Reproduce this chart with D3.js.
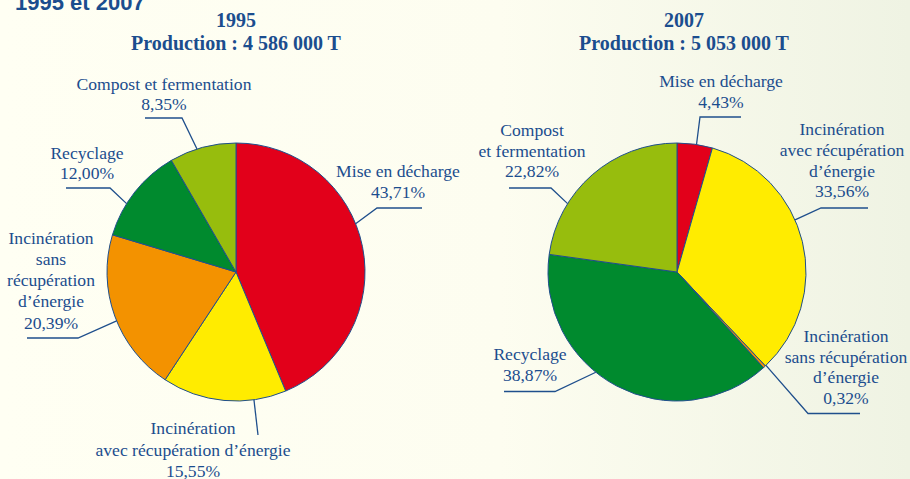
<!DOCTYPE html>
<html><head><meta charset="utf-8">
<script src="https://cdn.jsdelivr.net/npm/d3@7/dist/d3.min.js"></script>
<style>html,body{margin:0;padding:0;}svg{display:block;}</style>
</head><body>
<svg id="c" width="910" height="479"></svg>
<script>
// ---- data ----
const categories = ["Mise en décharge", "Incinération avec récupération d’énergie", "Incinération sans récupération d’énergie", "Recyclage", "Compost et fermentation"];
const colors = ["#e2001a", "#ffec00", "#f39200", "#008a2e", "#97bd0d"];
const values1995 = [43.71, 15.55, 20.39, 12.00, 8.35];
const values2007 = [4.43, 33.56, 0.32, 38.87, 22.82];
const years = ["1995", "2007"];
const productions = ["Production : 4 586 000 T", "Production : 5 053 000 T"];
const pageTitle = "1995 et 2007";

// ---- layout (label text blocks, leader angles & elbows relative to pie centre) ----
const labels1995 = [
  {lines:["Mise en décharge","43,71%"], x:162, y:[-95,-74], ang:68, elbow:[141,-64], end:[186,-64]},
  {lines:["Incinération","avec récupération d’énergie","15,55%"], x:-43, y:[162,184,205], ang:172, elbow:null, end:[22,163]},
  {lines:["Incinération","sans","récupération","d’énergie","20,39%"], x:-185, y:[-28,-7,14,35,57], ang:247.7, elbow:[-158,66], end:[-209,66]},
  {lines:["Recyclage","12,00%"], x:-149, y:[-113,-93], ang:302, elbow:[-126,-84], end:[-170,-84]},
  {lines:["Compost et fermentation","8,35%"], x:-72, y:[-182,-162], ang:342.4, elbow:[-54,-154], end:[-91,-154]}
];
const labels2007 = [
  {lines:["Mise en décharge","4,43%"], x:44, y:[-185,-164.5], ang:8.7, elbow:[23,-155], end:[64,-155]},
  {lines:["Incinération","avec récupération","d’énergie","33,56%"], x:165, y:[-137,-116,-95.5,-75], ang:66.2, elbow:[144,-64], end:[191,-64]},
  {lines:["Incinération","sans récupération","d’énergie","0,32%"], x:169, y:[70,90.5,111,131.5], ang:136.4, elbow:[131,141.5], end:[183,141.5]},
  {lines:["Recyclage","38,87%"], x:-147, y:[88,109], ang:219, elbow:[-122,119.5], end:[-173,119.5]},
  {lines:["Compost","et fermentation","22,82%"], x:-145, y:[-136,-115,-95], ang:302, elbow:[-126,-84], end:[-168,-84]}
];

const W = 910, H = 479;
const textColor = "#1b4d8e";
const svg = d3.select("#c");
const defs = svg.append("defs");
const grad = defs.append("linearGradient").attr("id","bg").attr("x1","0").attr("x2","1").attr("y1","0").attr("y2","0");
grad.append("stop").attr("offset","0").attr("stop-color","#fffff3");
grad.append("stop").attr("offset","0.55").attr("stop-color","#fdfdf0");
grad.append("stop").attr("offset","1").attr("stop-color","#eff3e3");
svg.append("rect").attr("width",W).attr("height",H).attr("fill","url(#bg)");

svg.append("text").attr("x",15).attr("y",10).attr("fill",textColor)
  .attr("font-family","Liberation Sans, Arial, sans-serif").attr("font-weight","bold").attr("font-size",22)
  .text(pageTitle);

const pie = d3.pie().sort(null).value(d => d);
const R = 129;
const arc = d3.arc().innerRadius(0).outerRadius(R);
const serif = "'Liberation Serif', 'Times New Roman', serif";

function drawPie(cx, cy, values, labels, year, prod, titleX) {
  const t = svg.append("g").attr("font-family",serif)
    .attr("font-weight","bold").attr("font-size",20).attr("fill",textColor).attr("text-anchor","middle");
  t.append("text").attr("x",titleX).attr("y",27).text(year);
  t.append("text").attr("x",titleX).attr("y",50).text(prod);

  const g = svg.append("g").attr("transform",`translate(${cx},${cy})`);
  g.selectAll("path.slice").data(pie(values)).join("path").attr("class","slice")
    .attr("d",arc).attr("fill",(d,i)=>colors[i])
    .attr("stroke","#1f4f8c").attr("stroke-width",1).attr("stroke-linejoin","round");

  labels.forEach(l => {
    const a = l.ang * Math.PI/180;
    const p0 = [R*Math.sin(a), -R*Math.cos(a)];
    const pts = l.elbow ? [p0, l.elbow, l.end] : [p0, l.end];
    g.append("path").attr("d", d3.line()(pts)).attr("fill","none")
      .attr("stroke","#1f4f8c").attr("stroke-width",1.3);
    const tx = g.append("text").attr("font-family",serif)
      .attr("font-size",17.6).attr("fill",textColor).attr("text-anchor","middle");
    l.lines.forEach((s,i) => tx.append("tspan").attr("x",l.x).attr("y",l.y[i]).text(s));
  });
}

drawPie(236, 272, values1995, labels1995, years[0], productions[0], 236);
drawPie(677, 272, values2007, labels2007, years[1], productions[1], 684);
</script>
</body></html>
